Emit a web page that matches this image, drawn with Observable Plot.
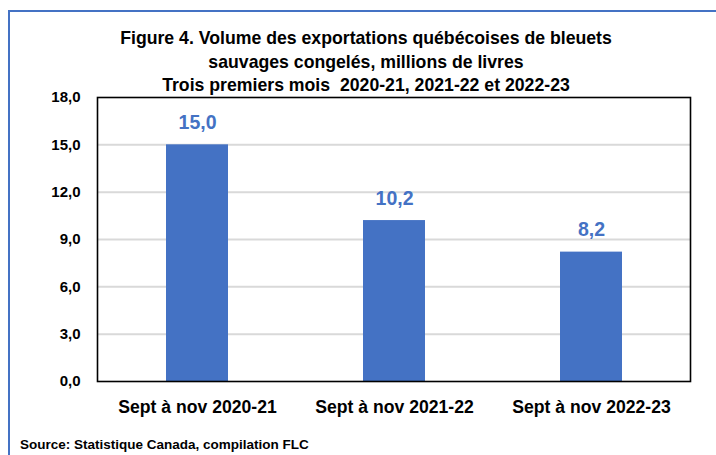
<!DOCTYPE html>
<html>
<head>
<meta charset="utf-8">
<script src="https://cdn.jsdelivr.net/npm/d3@7"></script>
<script src="https://cdn.jsdelivr.net/npm/@observablehq/plot@0.6"></script>
<style>
  html, body { margin: 0; padding: 0; background: #fff; }
  #wrap { position: relative; width: 716px; height: 455px; overflow: hidden;
    font-family: "Liberation Sans Narrow", "Arial Narrow", "Liberation Sans", Arial, sans-serif; font-weight: bold; color: #000; }
  #border { position: absolute; left: 8px; top: 10px; width: 720px; height: 460px;
    border-top: 2px solid #4472c4; border-left: 2px solid #4472c4; }
  #title { position: absolute; left: 0; width: 732px; top: 26px; text-align: center;
    font-size: 19px; line-height: 23.5px; transform: scaleX(0.93); transform-origin: 366px 0; }
  #source { position: absolute; left: 20px; top: 437px; font-size: 13.5px; }
  #chart { position: absolute; left: 0; top: 0; }
</style>
</head>
<body>
<div id="wrap">
  <div id="chart"></div>
  <div id="border"></div>
  <div id="title">Figure 4. Volume des exportations québécoises de bleuets<br>sauvages congelés, millions de livres<br>Trois premiers mois&nbsp; 2020-21, 2021-22 et 2022-23</div>
  <div id="source">Source: Statistique Canada, compilation FLC</div>
</div>
<script>
const categories = ["Sept à nov 2020-21", "Sept à nov 2021-22", "Sept à nov 2022-23"];
const values = [15.0, 10.2, 8.2];
const yTicks = [0, 3, 6, 9, 12, 15, 18];

const data = categories.map((c, i) => ({cat: c, v: values[i]}));
const fmt = d => d.toFixed(1).replace(".", ",");
const font = '"Liberation Sans Narrow", "Arial Narrow", "Liberation Sans", Arial, sans-serif';

const chart = Plot.plot({
  width: 716,
  height: 455,
  marginLeft: 97,
  marginRight: 26,
  marginTop: 97,
  marginBottom: 74,
  style: {fontFamily: font, fontWeight: "bold", color: "#000", background: "transparent"},
  x: {domain: categories, paddingInner: 0.686, paddingOuter: 0.343, label: null},
  y: {domain: [0, 18], label: null},
  marks: [
    Plot.ruleY(yTicks.filter(t => t > 0 && t < 18), {stroke: "#d9d9d9", strokeWidth: 2}),
    Plot.barY(data, {x: "cat", y: "v", fill: "#4472c4"}),
    Plot.text(data, {x: "cat", y: "v", text: d => fmt(d.v), dy: -22, fill: "#4472c4",
      fontSize: 19.5, fontWeight: "bold"}),
    Plot.frame({stroke: "#000", strokeWidth: 1.6}),
    Plot.axisY({ticks: yTicks, tickFormat: fmt, tickSize: 0, tickPadding: 17, fontSize: 15, fontWeight: "bold", label: null}),
    Plot.axisX({tickSize: 0, tickPadding: 19, fontSize: 17.6, fontWeight: "bold", label: null})
  ]
});
document.getElementById("chart").appendChild(chart);
</script>
</body>
</html>
